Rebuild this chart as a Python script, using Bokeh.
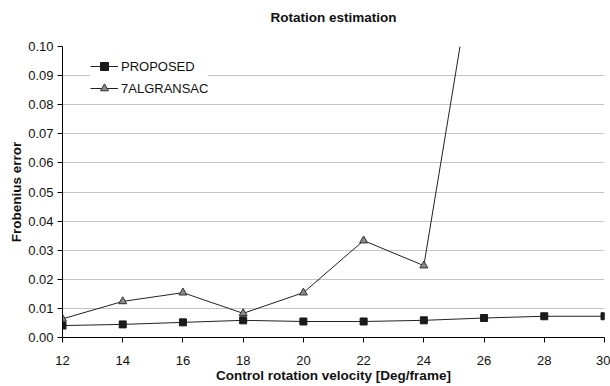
from bokeh.plotting import figure
from bokeh.models import FixedTicker, Legend, LegendItem, NumeralTickFormatter, Title
from bokeh.embed import file_html
from bokeh.resources import INLINE

# Control rotation velocity [Deg/frame]
velocity = [12, 14, 16, 18, 20, 22, 24, 26, 28, 30]
proposed = [0.0041, 0.0045, 0.0052, 0.0059, 0.0055, 0.0055, 0.0059, 0.0067, 0.0073, 0.0073]

velocity_ransac = [12, 14, 16, 18, 20, 22, 24, 26]
ransac = [0.0064, 0.0124, 0.0154, 0.0083, 0.0154, 0.0333, 0.0247, 0.150]

x_ticks = [12, 14, 16, 18, 20, 22, 24, 26, 28, 30]
y_ticks = [0.00, 0.01, 0.02, 0.03, 0.04, 0.05, 0.06, 0.07, 0.08, 0.09, 0.10]

FONT = "Liberation Sans"

p = figure(width=610, height=386, output_backend="svg", toolbar_location=None,
           x_range=(12, 30), y_range=(0, 0.10),
           min_border_left=62, min_border_right=6, min_border_top=46, min_border_bottom=49)
p.outline_line_color = None
p.background_fill_color = "white"
p.border_fill_color = "white"

# Gap between the frame and the title, then the title itself
gap = Title(text=" ", text_font=FONT, text_font_size="12px", standoff=6)
title = Title(text="Rotation estimation", align="center", text_font=FONT,
              text_font_size="13.5px", text_font_style="bold", text_color="#111111",
              standoff=0)
p.add_layout(gap, "above")
p.add_layout(title, "above")

# Axes
for ax in (p.xaxis[0], p.yaxis[0]):
    ax.axis_line_color = "black"
    ax.axis_line_width = 1
    ax.major_tick_line_color = "black"
    ax.major_tick_out = 5
    ax.major_tick_in = 0
    ax.minor_tick_line_color = None
    ax.major_label_text_font = FONT
    ax.major_label_text_font_size = "13px"
    ax.major_label_text_color = "#111111"
    ax.axis_label_text_font = FONT
    ax.axis_label_text_font_size = "13.5px"
    ax.axis_label_text_font_style = "bold"
    ax.axis_label_text_color = "#111111"

p.xaxis.ticker = FixedTicker(ticks=x_ticks)
p.yaxis.ticker = FixedTicker(ticks=y_ticks)
p.yaxis.formatter = NumeralTickFormatter(format="0.00")
p.xaxis.axis_label = "Control rotation velocity [Deg/frame]"
p.yaxis.axis_label = "Frobenius error"
p.xaxis.major_label_standoff = 13
p.xaxis.axis_label_standoff = 0
p.yaxis.major_label_standoff = 4
p.yaxis.axis_label_standoff = 1

p.xgrid.grid_line_color = None
p.ygrid.grid_line_color = "#c4c4c4"
p.ygrid.grid_line_width = 1

# Series
l1 = p.line(velocity, proposed, line_color="#222222", line_width=1)
# smaller copies first so the legend swatch markers are small; hidden under the full-size markers
s1 = p.scatter(velocity, proposed, marker="square", size=5,
               fill_color="#1a1a1a", line_color="#1a1a1a")
p.scatter(velocity, proposed, marker="square", size=7,
          fill_color="#1a1a1a", line_color="#1a1a1a")

l2 = p.line(velocity_ransac, ransac, line_color="#222222", line_width=1)
s2 = p.scatter(velocity_ransac, ransac, marker="triangle", size=6,
               fill_color="#8a8a8a", line_color="#333333", line_width=1)
p.scatter(velocity_ransac, ransac, marker="triangle", size=8,
          fill_color="#8a8a8a", line_color="#333333", line_width=1)

legend = Legend(items=[LegendItem(label="PROPOSED", renderers=[l1, s1]),
                       LegendItem(label="7ALGRANSAC", renderers=[l2, s2])],
                location=(28, 239))
legend.background_fill_color = "white"
legend.background_fill_alpha = 1
legend.border_line_color = None
legend.label_text_font = FONT
legend.label_text_font_size = "13px"
legend.label_text_color = "#111111"
legend.glyph_width = 28
legend.glyph_height = 20
legend.label_standoff = 3
legend.spacing = 2
legend.padding = 4
legend.margin = 0
p.add_layout(legend, "center")

open("out.html", "w").write(file_html(p, INLINE))
